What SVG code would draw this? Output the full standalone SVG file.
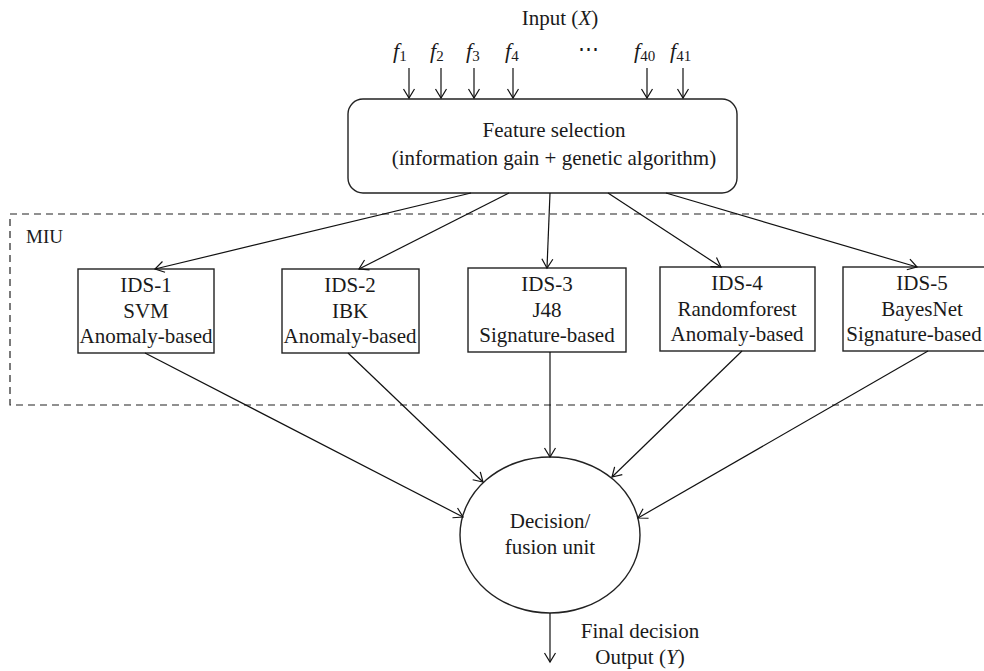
<svg xmlns="http://www.w3.org/2000/svg" width="984" height="671" viewBox="0 0 984 671">
<style>
text{font-family:"Liberation Serif","Times New Roman",serif;fill:#1a1a1a}
.t{font-size:21px;text-anchor:middle}
.f{font-size:22px;font-style:italic}
.sub{font-size:15px;font-style:normal}
.box{fill:#fff;stroke:#222;stroke-width:1.4}
.ln{stroke:#111;stroke-width:1.2;fill:none;marker-end:url(#arr)}
</style>
<defs>
<marker id="arr" markerUnits="userSpaceOnUse" viewBox="-11 -7 13 14" refX="0" refY="0" markerWidth="13" markerHeight="14" orient="auto">
<path d="M-9,-5.5 L0,0 L-9,5.5" fill="none" stroke="#111" stroke-width="1.2"/>
</marker>
</defs>
<rect width="984" height="671" fill="#fff"/>

<g id="miu">
<rect x="10" y="214" width="985" height="191" fill="none" stroke="#222" stroke-width="1.2" stroke-dasharray="7,5"/>
<text x="26" y="243" style="font-size:19px">MIU</text>
</g>

<g id="input">
<text class="t" x="560" y="25">Input (<tspan font-style="italic">X</tspan>)</text>
<text class="f" x="393" y="58">f<tspan class="sub" dy="3">1</tspan></text>
<text class="f" x="430" y="58">f<tspan class="sub" dy="3">2</tspan></text>
<text class="f" x="466" y="58">f<tspan class="sub" dy="3">3</tspan></text>
<text class="f" x="505" y="58">f<tspan class="sub" dy="3">4</tspan></text>
<text class="t" x="588" y="56">⋯</text>
<text class="f" x="634" y="58">f<tspan class="sub" dy="3">40</tspan></text>
<text class="f" x="670" y="58">f<tspan class="sub" dy="3">41</tspan></text>
</g>

<g id="feature-selection">
<rect class="box" x="348" y="99" width="389" height="94" rx="15" ry="15"/>
<text class="t" x="554" y="137">Feature selection</text>
<text class="t" x="554" y="165">(information gain + genetic algorithm)</text>
</g>

<g id="ids1">
<rect class="box" x="78" y="269" width="136" height="84"/>
<text class="t" x="146" y="292">IDS-1</text>
<text class="t" x="146" y="318">SVM</text>
<text class="t" x="146" y="343">Anomaly-based</text>
</g>
<g id="ids2">
<rect class="box" x="282" y="269" width="137" height="84"/>
<text class="t" x="350" y="292">IDS-2</text>
<text class="t" x="350" y="318">IBK</text>
<text class="t" x="350" y="343">Anomaly-based</text>
</g>
<g id="ids3">
<rect class="box" x="468" y="268" width="158" height="84"/>
<text class="t" x="547" y="291">IDS-3</text>
<text class="t" x="547" y="317">J48</text>
<text class="t" x="547" y="342">Signature-based</text>
</g>
<g id="ids4">
<rect class="box" x="660" y="267" width="155" height="84"/>
<text class="t" x="737" y="290">IDS-4</text>
<text class="t" x="737" y="316">Randomforest</text>
<text class="t" x="737" y="341">Anomaly-based</text>
</g>
<g id="ids5">
<rect class="box" x="843" y="267" width="157" height="84"/>
<text class="t" x="922" y="290">IDS-5</text>
<text class="t" x="922" y="316">BayesNet</text>
<text class="t" x="914" y="341">Signature-based</text>
</g>

<g id="fusion">
<ellipse cx="550" cy="535" rx="90" ry="78" fill="#fff" stroke="#222" stroke-width="1.4"/>
<text class="t" x="550" y="528">Decision/</text>
<text class="t" x="550" y="554">fusion unit</text>
</g>

<g id="output">
<text class="t" x="640" y="638">Final decision</text>
<text class="t" x="640" y="664">Output (<tspan font-style="italic">Y</tspan>)</text>
</g>

<g id="connectors">
<line class="ln" x1="409" y1="68" x2="409" y2="98"/>
<line class="ln" x1="441" y1="68" x2="441" y2="98"/>
<line class="ln" x1="474" y1="68" x2="474" y2="98"/>
<line class="ln" x1="513" y1="68" x2="513" y2="98"/>
<line class="ln" x1="647" y1="68" x2="647" y2="98"/>
<line class="ln" x1="683" y1="68" x2="683" y2="98"/>

<line class="ln" x1="471" y1="193" x2="155" y2="269"/>
<line class="ln" x1="509" y1="193" x2="359" y2="269"/>
<line class="ln" x1="550" y1="193" x2="547" y2="268"/>
<line class="ln" x1="608" y1="193" x2="721" y2="267"/>
<line class="ln" x1="666" y1="193" x2="917" y2="267"/>

<line class="ln" x1="145" y1="353" x2="463" y2="517"/>
<line class="ln" x1="348" y1="353" x2="483" y2="482"/>
<line class="ln" x1="550" y1="352" x2="550" y2="457"/>
<line class="ln" x1="742" y1="351" x2="612" y2="477"/>
<line class="ln" x1="928" y1="351" x2="638" y2="518"/>

<line class="ln" x1="550" y1="613" x2="550" y2="662"/>
</g>
</svg>
